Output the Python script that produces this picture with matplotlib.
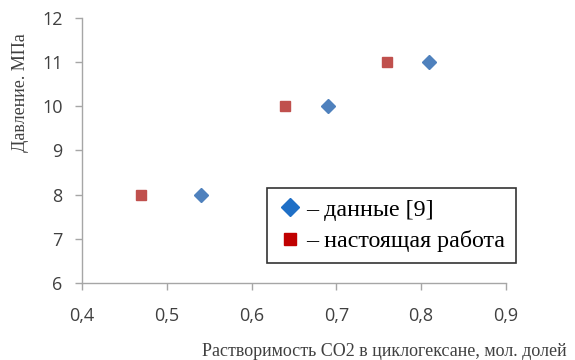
import matplotlib.pyplot as plt
from matplotlib.ticker import FuncFormatter

# данные [9]
lit_x = [0.54, 0.69, 0.81]
lit_y = [8, 10, 11]
# настоящая работа
our_x = [0.47, 0.64, 0.76]
our_y = [8, 10, 11]

xticks = [0.4, 0.5, 0.6, 0.7, 0.8, 0.9]
yticks = [6, 7, 8, 9, 10, 11, 12]

fig = plt.figure(figsize=(5.75, 3.6), dpi=100)
ax = fig.add_axes([0.1426, 0.214, 0.737, 0.736])

ax.plot(lit_x, lit_y, 'D', color='#4f81bd', markersize=7, linestyle='none',
        label='– данные [9]')
ax.plot(our_x, our_y, 's', color='#c0504d', markersize=7.5, linestyle='none',
        label='– настоящая работа')

ax.set_xlim(0.4, 0.9)
ax.set_ylim(6, 12)
ax.set_xticks(xticks)
ax.set_yticks(yticks)
ax.xaxis.set_major_formatter(FuncFormatter(lambda v, p: ('%.1f' % v).replace('.', ',')))

for s in ['top', 'right']:
    ax.spines[s].set_visible(False)
for s in ['left', 'bottom']:
    ax.spines[s].set_color('#a6a6a6')
    ax.spines[s].set_linewidth(1)
ax.tick_params(colors='#a6a6a6', length=5, width=1, labelcolor='#404040',
               labelsize=13)
ax.tick_params(axis='x', pad=12)
ax.tick_params(axis='y', pad=9)
for lbl in ax.get_xticklabels() + ax.get_yticklabels():
    lbl.set_family('Open Sans')

fig.text(0.035, 0.742, 'Давление. МПа', rotation=90, ha='center', va='center',
         family='Liberation Serif', fontsize=13, color='#404040')
fig.text(0.986, 0.024, 'Растворимость CO2 в циклогексане, мол. долей',
         ha='right', va='center', family='Liberation Serif', fontsize=13,
         color='#404040')

leg = ax.legend(loc='upper left', bbox_to_anchor=(0.436, 0.358),
                prop={'family': 'Liberation Serif', 'size': 17.3},
                frameon=True, fancybox=False, edgecolor='black',
                handletextpad=0.2, handlelength=1.0, borderpad=0.45,
                labelspacing=0.4, borderaxespad=0)
leg.get_frame().set_linewidth(1.2)
leg.legend_handles[0].set_color('#1f6fc6')
leg.legend_handles[0].set_markersize(9)
leg.legend_handles[1].set_color('#c00000')
leg.legend_handles[1].set_markersize(8)

fig.savefig('out.png', dpi=100)
